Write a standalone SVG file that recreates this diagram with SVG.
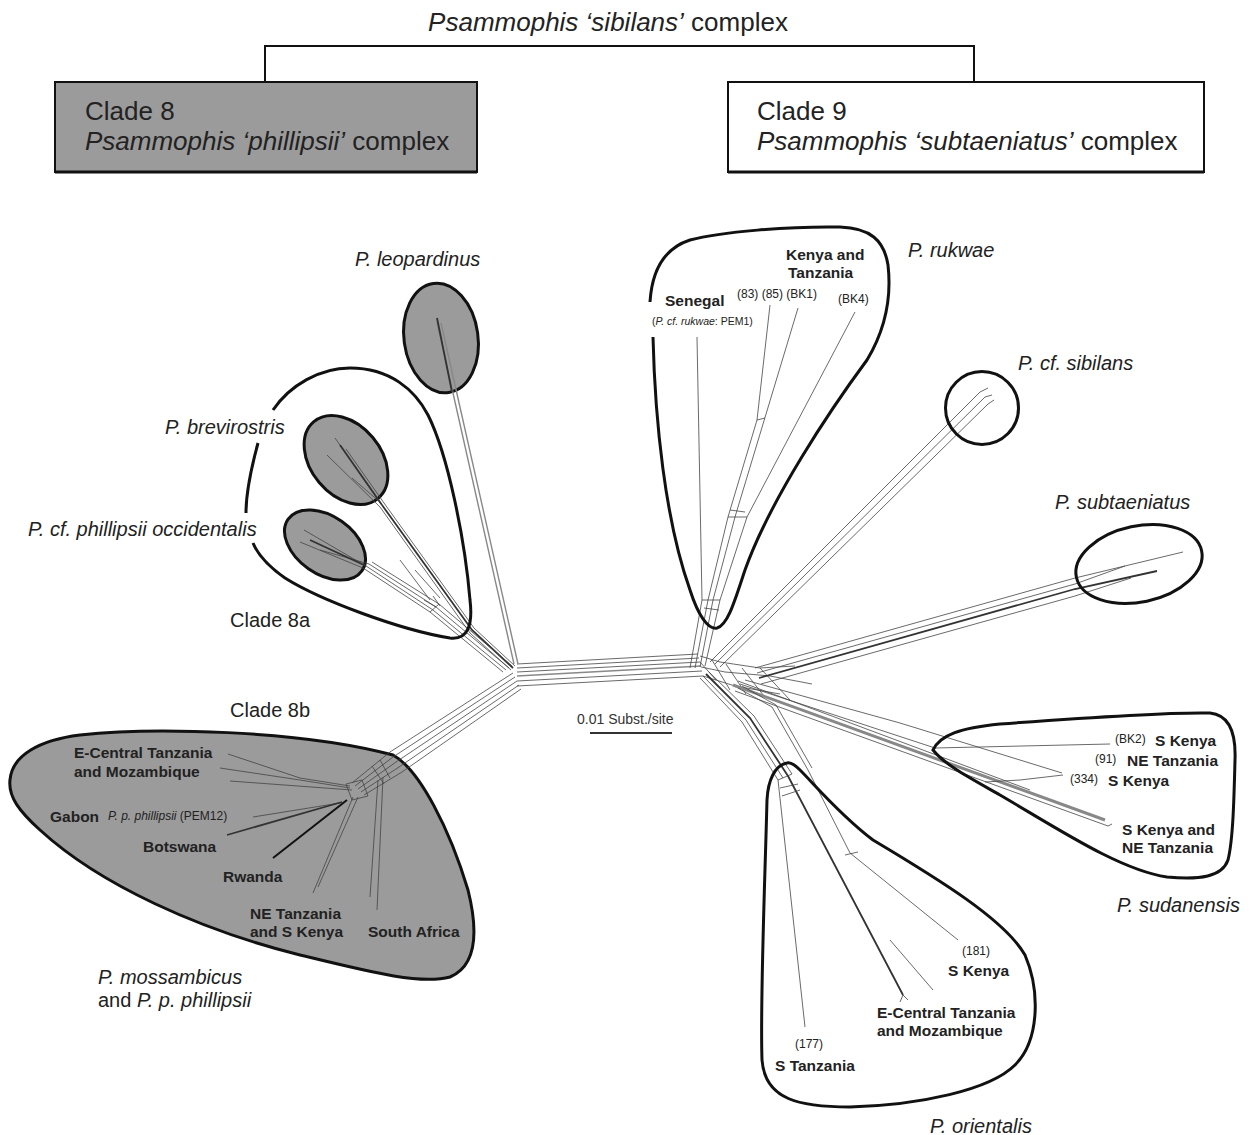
<svg xmlns="http://www.w3.org/2000/svg" width="1250" height="1135" viewBox="0 0 1250 1135">
<style>
text{font-family:"Liberation Sans",Arial,sans-serif;fill:#222}
.hd{font-size:26px}
.sp{font-size:20px;font-style:italic}
.cl{font-size:20px}
.b{font-size:15.5px;font-weight:bold}
.s{font-size:12px}
.xs{font-size:10.5px}
.it{font-style:italic}
.ol{fill:none;stroke:#111;stroke-width:3}
.olg{fill:#9b9b9b;stroke:#111;stroke-width:3}
.br{fill:none;stroke:#444;stroke-width:0.8}
.bl{fill:none;stroke:#777;stroke-width:0.8}
.bg{fill:none;stroke:#888;stroke-width:1.4}
.bd{fill:none;stroke:#333;stroke-width:1.8}
.bk{fill:none;stroke:#111;stroke-width:2}
</style>
<rect width="1250" height="1135" fill="#fff"/>

<g id="header">
<text class="hd" x="608" y="31" text-anchor="middle"><tspan font-style="italic">Psammophis ‘sibilans’</tspan> complex</text>
<path d="M265,82 V46 H974 V82" class="bk"/>
</g>
<g id="clade8-box">
<rect x="55" y="82" width="422" height="90" fill="#9b9b9b" stroke="#111" stroke-width="2"/>
<path d="M55,172 H477" stroke="#111" stroke-width="3"/>
<text class="hd" x="85" y="120">Clade 8</text>
<text class="hd" x="85" y="150"><tspan font-style="italic">Psammophis ‘phillipsii’</tspan> complex</text>
</g>
<g id="clade9-box">
<rect x="728" y="82" width="476" height="90" fill="#fff" stroke="#111" stroke-width="2"/>
<path d="M728,172 H1204" stroke="#111" stroke-width="3"/>
<text class="hd" x="757" y="120">Clade 9</text>
<text class="hd" x="757" y="150"><tspan font-style="italic">Psammophis ‘subtaeniatus’</tspan> complex</text>
</g>

<g id="outlines">
<ellipse id="leopardinus-ellipse" cx="441" cy="338" rx="37" ry="55" transform="rotate(-8 441 338)" class="olg"/>
<ellipse id="brevirostris-ellipse" cx="346" cy="460" rx="50" ry="35" transform="rotate(50 346 460)" class="olg"/>
<ellipse id="occidentalis-ellipse" cx="325" cy="545" rx="45" ry="29" transform="rotate(35 325 545)" class="olg"/>
<path id="clade8b-outline" class="olg" d="M10,780 C12,755 40,740 80,735 C150,727 300,730 393,755 C420,770 450,830 468,890 C478,930 478,965 450,977 C420,985 370,972 300,955 C200,930 100,885 40,830 C20,812 8,797 10,780 Z"/>
</g>

<g id="connectors">
<!-- central bundle -->
<path class="br" d="M517,664 L698,654 M517,668 L699,658 M517,672 L700,662 M517,681 L702,671 M517,686 L703,676"/>
<path class="bg" d="M517,676 L701,666"/>
<!-- leopardinus -->
<path class="bg" d="M514,664 L437,322 M518,664 L441,323"/>
<path class="bd" d="M437,318 L452,392"/>
<!-- brevirostris -->
<path class="br" d="M511,670 L470,633 L380,507 M515,666 L474,628 L384,503"/>
<path class="bd" d="M513,668 L472,630 L382,505"/>
<path class="br" d="M382,505 L335,438 M380,507 L327,455 M384,503 L346,449 M381,503 L352,478"/>
<path class="bd" d="M382,505 L340,445"/>
<!-- occidentalis -->
<path class="br" d="M503,672 L430,612 L363,568 M506,670 L433,610 L366,566 M509,668 L436,607 L369,564 M512,666 L439,604 L372,562"/>
<path class="br" d="M430,612 L439,604 M433,596 L440,606 M424,600 L436,607"/>
<path class="br" d="M366,566 L304,530 M363,568 L300,542 M369,564 L320,550"/>
<path class="bd" d="M366,566 L310,540"/>
<!-- 8a lines near ellipses -->
<path class="br" d="M430,600 L400,560 M440,598 L415,570"/>
<!-- to clade 8b -->
<path class="br" d="M513,673 L390,752 L352,783 M515,677 L393,757 L355,786 M517,681 L396,762 L358,789 M519,685 L399,767 L361,792 M521,689 L402,772 L364,795"/>
<path class="br" d="M346,784 L362,780 L368,796 L352,800 Z M380,760 L390,778 M372,766 L384,784"/>
<!-- clade 8b branches -->
<path class="br" d="M350,786 L300,778 L228,754 M350,788 L300,780 L220,768 M352,790 L230,781"/>
<path class="br" d="M340,803 L253,817"/>
<path class="bd" d="M342,802 L227,835"/>
<path class="bk" d="M347,800 L273,858"/>
<path class="br" d="M353,797 L313,893 M358,797 L318,887"/>
<path class="br" d="M383,777 L377,910 M378,780 L370,897"/>
<!-- right hub mesh -->
<path class="br" d="M700,656 L720,662 L760,668 L795,666 M701,667 L725,672 L770,676 L812,684 M703,676 L735,686 L780,694 M712,660 L730,690 M726,664 L746,694 M742,668 L764,696 M760,668 L790,700 M700,662 L716,680"/>
<!-- rukwae -->
<path class="br" d="M690,668 L702,600 L697,337"/>
<path class="br" d="M695,668 L708,600 L728,517 L757,420 L770,305"/>
<path class="br" d="M700,667 L713,600 L735,517 L798,308"/>
<path class="br" d="M705,666 L720,600 L747,517 L855,312"/>
<path class="br" d="M702,600 L720,600 M704,608 L719,610 M728,517 L747,517 M730,510 L745,512 M757,420 L765,418"/>
<!-- sibilans -->
<path class="br" d="M710,662 L980,392 M715,664 L985,397 M720,667 L988,404"/>
<path class="br" d="M980,392 L988,388 M985,397 L992,395 M988,404 L994,400"/>
<!-- subtaeniatus -->
<path class="br" d="M755,668 L1075,578 L1183,552 M757,673 L1075,584 L1125,566 M761,684 L1075,596 L1131,578"/>
<path class="bd" d="M759,678 L1075,589 L1157,571"/>
<!-- sudanensis -->
<path class="bg" d="M733,685 L1105,820" style="stroke-width:3"/>
<path class="br" d="M735,691 L1108,826 L1112,824 M738,681 L1030,790"/>
<path class="br" d="M745,680 L900,723 L1062,773 M985,782 L1020,780 L1063,775"/>
<path class="br" d="M740,684 L935,748 L1110,744"/>
<!-- orientalis -->
<path class="br" d="M700,678 L742,722 L778,780 L805,1027"/>
<path class="br" d="M703,676 L746,720 L783,778 M709,672 L754,716 L792,774"/>
<path class="bd" d="M706,674 L750,718 L788,776 L903,995"/>
<path class="br" d="M738,688 L772,707 L808,770 L850,853 L958,940 M742,686 L776,705 L812,768"/>
<path class="br" d="M778,780 L792,774 M780,788 L798,784 M782,796 L800,790 M845,855 L858,852"/>
<path class="br" d="M890,940 L933,990 M903,995 L900,1002 M903,995 L908,1000"/>
</g>

<g id="clade8a">
<path class="ol" d="M273,410 C290,385 320,368 350,368 C390,368 415,390 428,415 C448,455 465,540 470,600 C473,625 468,640 450,638 C400,630 320,600 285,578 C268,566 258,555 253,543"/>
<path class="ol" d="M258,443 C252,465 246,490 246,513"/>
<text class="cl" x="230" y="627">Clade 8a</text>
</g>
<g id="leopardinus"><text class="sp" x="355" y="266">P. leopardinus</text></g>
<g id="brevirostris"><text class="sp" x="165" y="434">P. brevirostris</text></g>
<g id="occidentalis"><text class="sp" x="28" y="536">P. cf. phillipsii occidentalis</text></g>

<g id="clade8b">
<text class="cl" x="230" y="717">Clade 8b</text>
<text class="b" x="74" y="758">E-Central Tanzania</text>
<text class="b" x="74" y="777">and Mozambique</text>
<text class="b" x="50" y="822">Gabon</text>
<text class="s" x="108" y="820"><tspan class="it">P. p. phillipsii</tspan> (PEM12)</text>
<text class="b" x="143" y="852">Botswana</text>
<text class="b" x="223" y="882">Rwanda</text>
<text class="b" x="250" y="919">NE Tanzania</text>
<text class="b" x="250" y="937">and S Kenya</text>
<text class="b" x="368" y="937">South Africa</text>
<text class="sp" x="98" y="984">P. mossambicus</text>
<text class="sp" x="98" y="1007"><tspan font-style="normal">and </tspan>P. p. phillipsii</text>
</g>

<g id="rukwae">
<path class="ol" d="M653,337 C655,420 665,520 690,590 C698,615 708,630 717,628 C728,625 735,600 745,570 C770,500 830,410 867,360 C885,330 892,300 888,265 C884,240 870,228 840,227 C790,226 720,232 690,240 C665,248 652,270 650,302"/>
<text class="b" x="786" y="260">Kenya and</text>
<text class="b" x="788" y="278">Tanzania</text>
<text class="b" x="665" y="306">Senegal</text>
<text class="s" x="737" y="298">(83) (85) (BK1)</text>
<text class="s" x="838" y="303">(BK4)</text>
<text class="xs" x="652" y="325">(<tspan class="it">P. cf. rukwae</tspan>: PEM1)</text>
<text class="sp" x="908" y="257">P. rukwae</text>
</g>

<g id="sibilans">
<circle cx="982" cy="408" r="36.5" class="ol"/>
<text class="sp" x="1018" y="370">P. cf. sibilans</text>
</g>

<g id="subtaeniatus">
<ellipse cx="1139" cy="564" rx="64" ry="38" transform="rotate(-12 1139 564)" class="ol"/>
<text class="sp" x="1055" y="509">P. subtaeniatus</text>
</g>

<g id="sudanensis">
<path class="ol" d="M933,750 C940,735 960,728 1000,724 C1080,718 1170,712 1210,713 C1230,715 1236,735 1235,760 C1234,800 1233,840 1228,860 C1222,877 1200,880 1167,877 C1120,870 1060,830 1000,795 C970,778 945,765 933,750 Z"/>
<text class="s" x="1115" y="743">(BK2)</text>
<text class="b" x="1155" y="746">S Kenya</text>
<text class="s" x="1095" y="763">(91)</text>
<text class="b" x="1127" y="766">NE Tanzania</text>
<text class="s" x="1070" y="783">(334)</text>
<text class="b" x="1108" y="786">S Kenya</text>
<text class="b" x="1122" y="835">S Kenya and</text>
<text class="b" x="1122" y="853">NE Tanzania</text>
<text class="sp" x="1117" y="912">P. sudanensis</text>
</g>

<g id="orientalis">
<path class="ol" d="M787,763 C775,765 768,780 767,800 C765,880 760,1000 762,1060 C765,1100 800,1107 850,1107 C920,1105 990,1090 1015,1065 C1040,1040 1040,990 1025,955 C1005,920 940,880 873,840 C840,815 815,785 800,770 C795,765 790,762 787,763 Z"/>
<text class="s" x="962" y="955">(181)</text>
<text class="b" x="948" y="976">S Kenya</text>
<text class="b" x="877" y="1018">E-Central Tanzania</text>
<text class="b" x="877" y="1036">and Mozambique</text>
<text class="s" x="795" y="1048">(177)</text>
<text class="b" x="775" y="1071">S Tanzania</text>
<text class="sp" x="930" y="1133">P. orientalis</text>
</g>

<g id="scale">
<text x="577" y="724" font-size="14" style="fill:#333">0.01 Subst./site</text>
<path d="M590,733 H672" stroke="#333" stroke-width="2"/>
</g>
</svg>
